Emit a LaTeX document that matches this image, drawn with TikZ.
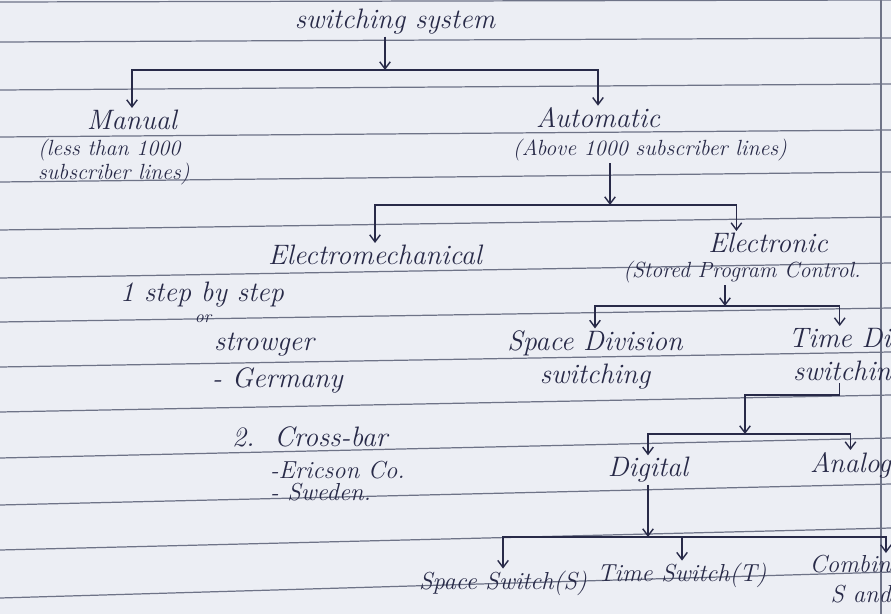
\documentclass[tikz,border=0pt]{standalone}
\usetikzlibrary{arrows.meta}
\definecolor{ink}{RGB}{40,42,72}
\definecolor{paper}{RGB}{236,238,244}
\definecolor{ruling}{RGB}{110,115,135}
\begin{document}
\begin{tikzpicture}[x=0.02cm,y=-0.02cm,
    hand/.style={text=ink,font=\itshape\fontsize{16}{19}\selectfont,inner sep=1pt},
    small/.style={text=ink,font=\itshape\fontsize{14}{17}\selectfont,inner sep=1pt},
    note/.style={text=ink,font=\itshape\fontsize{12.5}{14}\selectfont,inner sep=1pt,align=left},
    link/.style={draw=ink,line width=0.8pt,-{Straight Barb[length=4pt,width=6pt]}},
    paperline/.style={draw=ruling,line width=0.7pt}]
    % the notebook page
    \fill[paper] (0,0) rectangle (891,614);
    \useasboundingbox (0,0) rectangle (891,614);
    \foreach \l/\r in {2/0,42/38,90/84,137/130,182/172,230/217,278/263,322/308,
                       367/352,412/395,458/438,505/484,550/528,598/572}
        \draw[paperline] (0,\l) -- (891,\r);
    \draw[paperline] (881,0) -- (881,614);

    % first level
    \node[hand] (sys) at (395,22) {switching system};
    \coordinate (j1) at (385,70);
    \node[hand] (man) at (132,120) {Manual};
    \node[hand] (aut) at (598,118) {Automatic};
    \draw[link] (sys.south -| j1) -- (j1);
    \draw[link] (j1) -| (man);
    \draw[link] (j1) -| (aut);
    \node[note,anchor=west] (manN) at (36,162) {(less than 1000\\subscriber lines)};
    \node[note] (autN) at (650,150) {(Above 1000 subscriber lines)};

    % automatic
    \coordinate (j2) at (610,205);
    \draw[link] (autN.south -| j2) -- (j2);
    \node[hand] (emc) at (375,255) {Electromechanical};
    \node[hand] (elc) at (768,243) {Electronic};
    \node[note] (spc) at (742,272) {(Stored Program Control.};
    \draw[link] (j2) -| (emc);
    \draw[link] (j2) -| ([xshift=-18pt]elc.north);

    % electromechanical types
    \node[hand,anchor=west] (sbs) at (118,295) {1 step by step};
    \node[note,font=\itshape\fontsize{10}{12}\selectfont] (or) at (203,319) {or};
    \node[hand,anchor=west] (str) at (212,345) {strowger};
    \node[hand,anchor=west] (ger) at (210,380) {- Germany};
    \node[hand,anchor=west] (crb) at (230,437) {2.\ \ Cross-bar};
    \node[small,anchor=west] (eri) at (268,470) {-Ericson Co.};
    \node[small,anchor=west] (swe) at (268,492) {- Sweden.};

    % electronic
    \coordinate (j3) at (725,306);
    \draw[link] (spc.south -| j3) -- (j3);
    \node[hand,align=center] (sdv) at (595,360) {Space Division\\switching};
    \node[hand,align=right,anchor=north east] (tdv) at (893,326) {Time Di\\switchin};
    \draw[link] (j3) -| (sdv);
    \draw[link] (j3) -| (tdv);

    % time division
    \coordinate (j4a) at (745,395);
    \coordinate (j4) at (745,434);
    \draw[link] (tdv.south) |- (j4a) -- (j4);
    \node[hand] (dig) at (648,470) {Digital};
    \node[hand,anchor=east] (ana) at (893,465) {Analog};
    \draw[link] (j4) -| (dig);
    \draw[link] (j4) -| (ana);

    % digital
    \coordinate (j5) at (648,537);
    \draw[link] (dig) -- (j5);
    \node[small] (ssw) at (503,583) {Space Switch(S)};
    \node[small] (tsw) at (682,575) {Time Switch(T)};
    \node[small,align=right,anchor=north east] (cmb) at (893,553) {Combin\\S and};
    \draw[link] (j5) -| (ssw);
    \draw[link] (j5) -| (tsw);
    \draw[link] (j5) -| ([xshift=-4pt]cmb.north east);
\end{tikzpicture}
\end{document}
